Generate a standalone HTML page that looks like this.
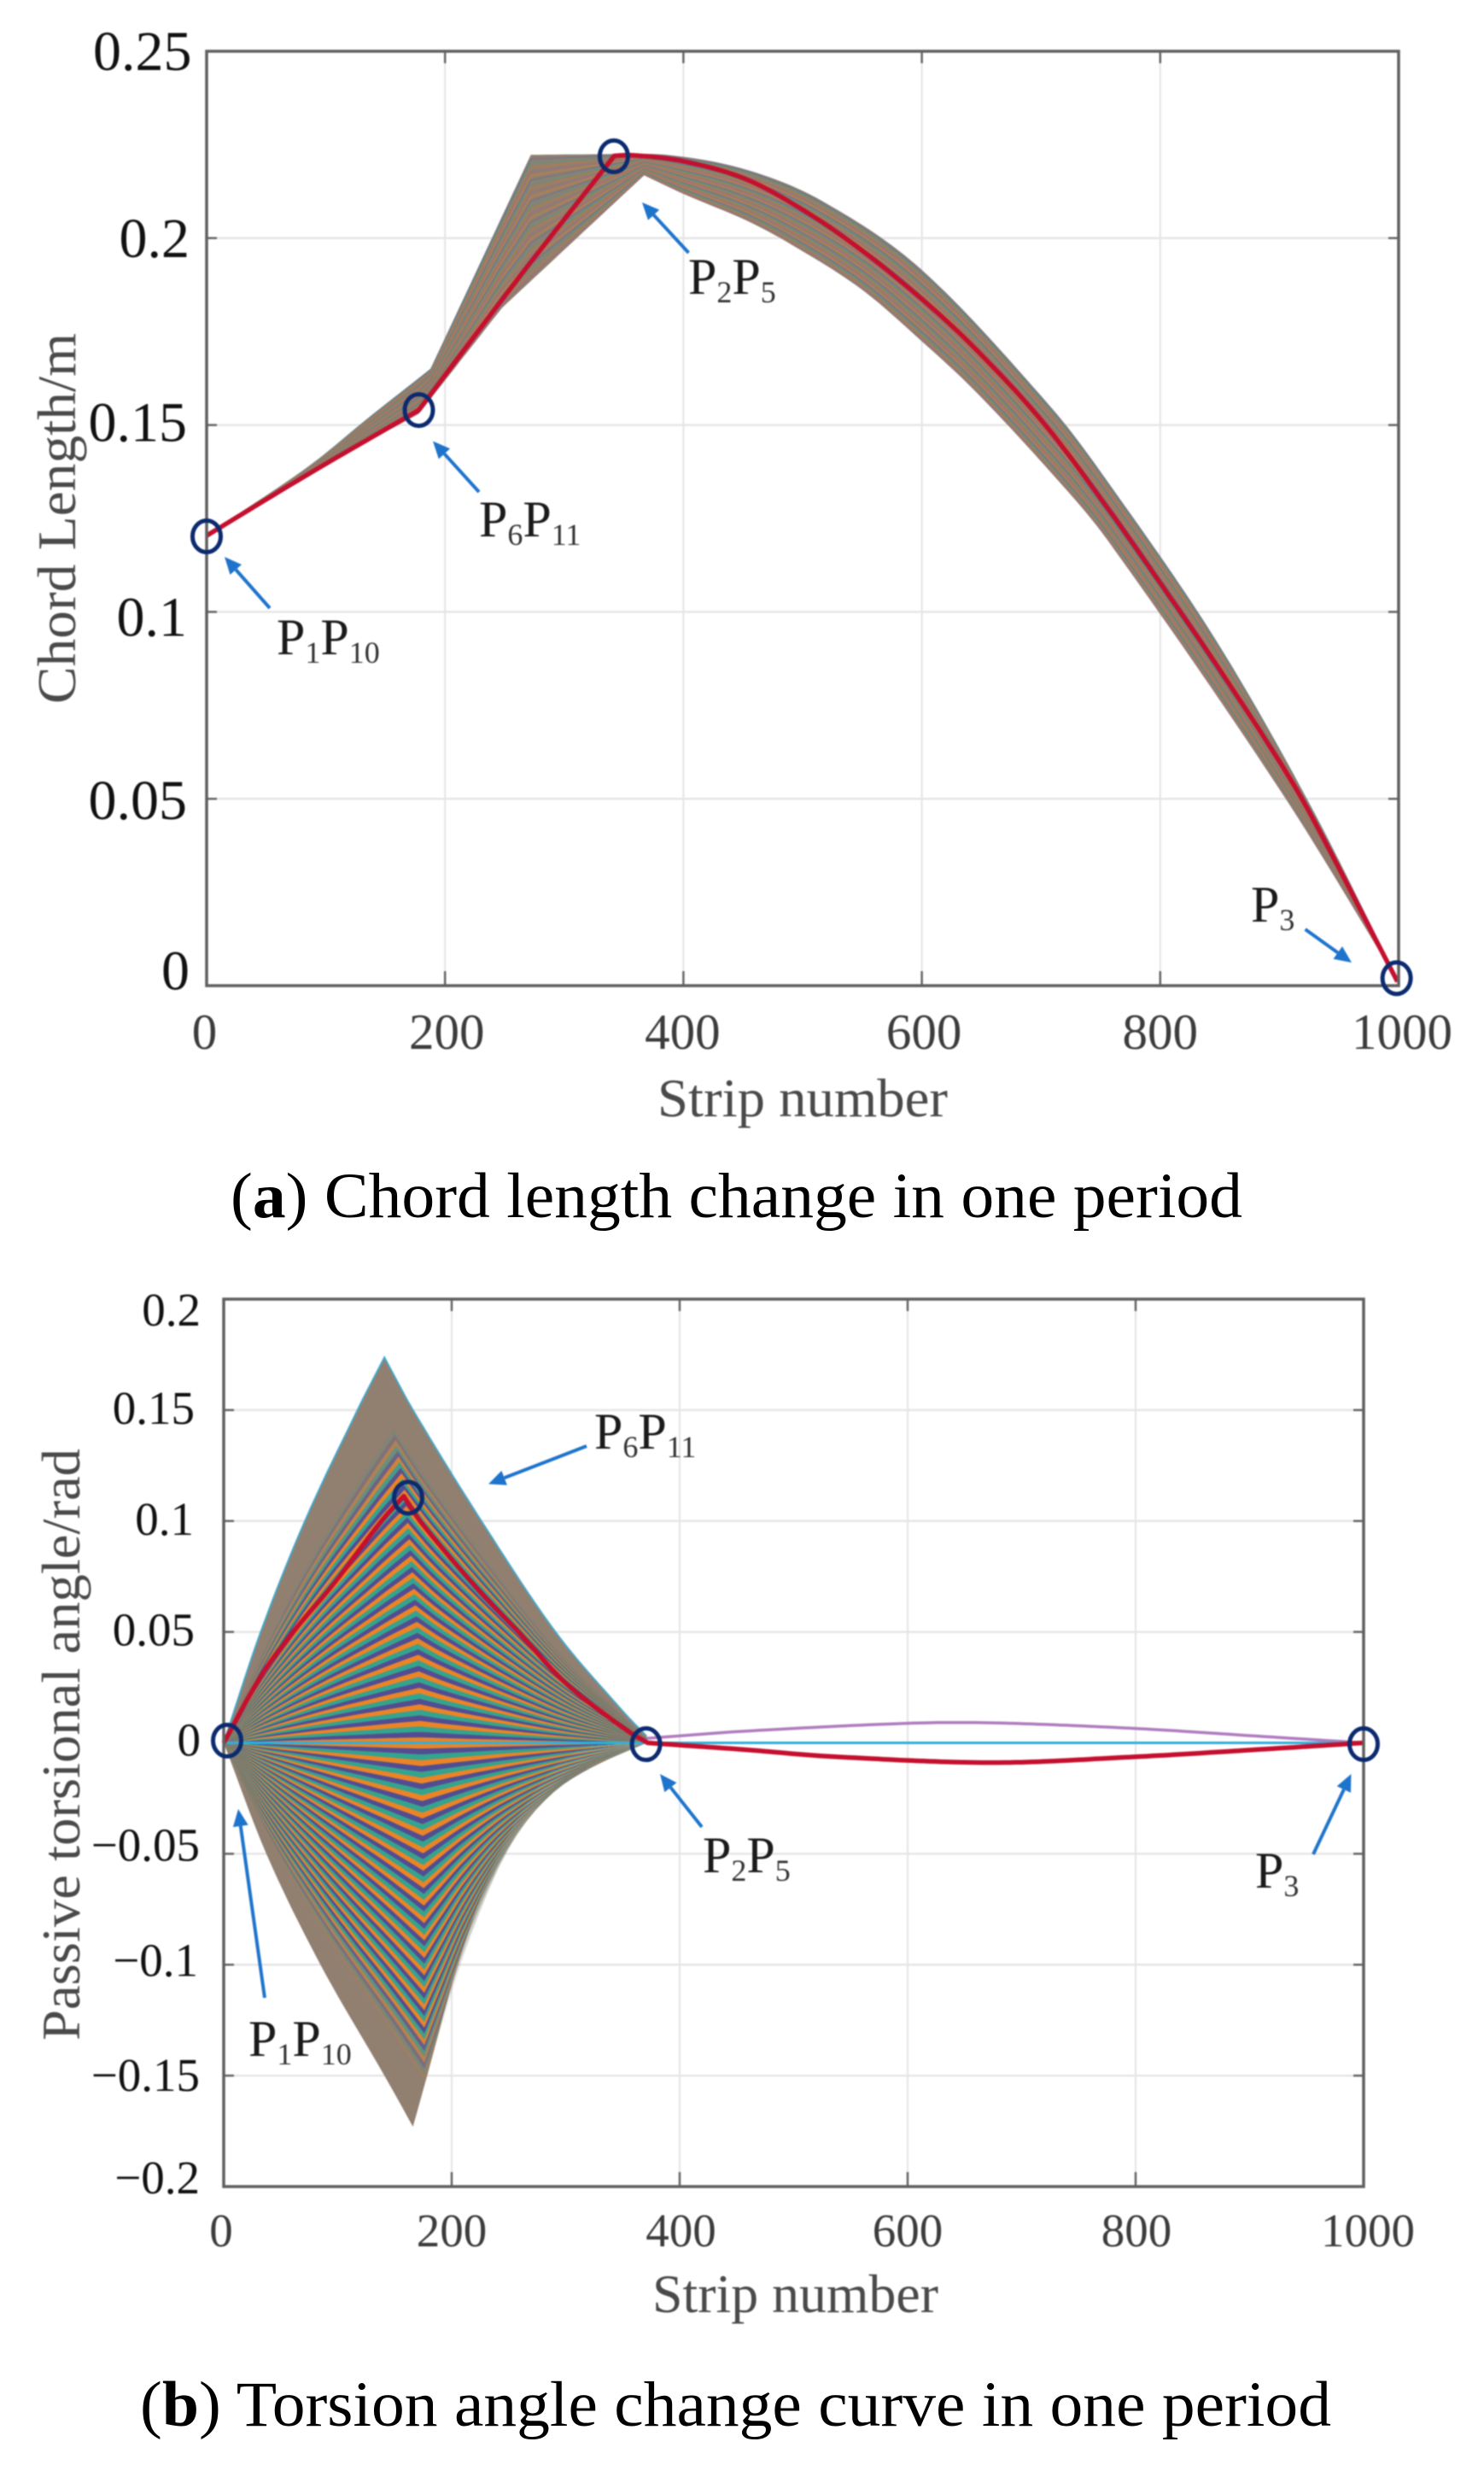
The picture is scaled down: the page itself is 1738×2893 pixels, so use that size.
<!DOCTYPE html>
<html lang="en">
<head>
<meta charset="utf-8">
<title>Chord length and torsion angle change in one period</title>
<style>
html,body{margin:0;padding:0;background:#fff;}
svg{display:block;}
text{font-family:"Liberation Serif",serif;}
.tick-a{font-size:66px;fill:#111;}
.xtick-a{font-size:59px;fill:#3c3c3c;}
.tick-b{font-size:55px;fill:#111;}
.xtick-b{font-size:55px;fill:#3c3c3c;}
.axis-title{font-size:64px;fill:#4a4a4a;}
.ann{font-size:60px;fill:#1a1a1a;}
.sub{font-size:36px;fill:#333;}
.caption{font-size:75px;fill:#000;}
.soft{filter:blur(0.8px);}
</style>
</head>
<body>
<svg id="figure" xmlns="http://www.w3.org/2000/svg" width="1738" height="2893" viewBox="0 0 1738 2893">
  <rect x="0" y="0" width="1738" height="2893" fill="#fff"/>
  <g id="chartA" class="soft"></g>
  <g id="chartB" class="soft"></g>

  <g class="soft">
    <text class="axis-title" x="770" y="1307" textLength="340" lengthAdjust="spacingAndGlyphs">Strip number</text>
    <text class="axis-title" transform="translate(88,824) rotate(-90)" textLength="434" lengthAdjust="spacingAndGlyphs">Chord Length/m</text>
    <text class="ann" x="324" y="766">P<tspan class="sub" dy="10">1</tspan><tspan dy="-10">P</tspan><tspan class="sub" dy="10">10</tspan></text>
    <text class="ann" x="561" y="628">P<tspan class="sub" dy="10">6</tspan><tspan dy="-10">P</tspan><tspan class="sub" dy="10">11</tspan></text>
    <text class="ann" x="806" y="344">P<tspan class="sub" dy="10">2</tspan><tspan dy="-10">P</tspan><tspan class="sub" dy="10">5</tspan></text>
    <text class="ann" x="1465" y="1079">P<tspan class="sub" dy="10">3</tspan></text>
  </g>
  <g class="soft">
    <text class="axis-title" x="764" y="2707" textLength="335" lengthAdjust="spacingAndGlyphs">Strip number</text>
    <text class="axis-title" transform="translate(93,2389) rotate(-90)" textLength="693" lengthAdjust="spacingAndGlyphs">Passive torsional angle/rad</text>
    <text class="ann" x="696" y="1696">P<tspan class="sub" dy="10">6</tspan><tspan dy="-10">P</tspan><tspan class="sub" dy="10">11</tspan></text>
    <text class="ann" x="291" y="2407">P<tspan class="sub" dy="10">1</tspan><tspan dy="-10">P</tspan><tspan class="sub" dy="10">10</tspan></text>
    <text class="ann" x="823" y="2192">P<tspan class="sub" dy="10">2</tspan><tspan dy="-10">P</tspan><tspan class="sub" dy="10">5</tspan></text>
    <text class="ann" x="1470" y="2210">P<tspan class="sub" dy="10">3</tspan></text>
  </g>

  <text class="caption" x="270" y="1425" textLength="1185" lengthAdjust="spacingAndGlyphs">(<tspan font-weight="bold">a</tspan>) Chord length change in one period</text>
  <text class="caption" x="164" y="2840" textLength="1395" lengthAdjust="spacingAndGlyphs">(<tspan font-weight="bold">b</tspan>) Torsion angle change curve in one period</text>
</svg>

<script>
// ---------- Chart A data ----------
const xTicks = [0, 200, 400, 600, 800, 1000];
const xTickLabels = ["0", "200", "400", "600", "800", "1000"];
const chordTicks = [0, 0.05, 0.1, 0.15, 0.2, 0.25];
const chordTickLabels = ["0", "0.05", "0.1", "0.15", "0.2", "0.25"];

const chordUpperStrip = [0, 84, 136, 188, 272, 341, 389, 453, 516, 600, 708, 756, 846, 926, 1000];
const chordUpperValue = [0.1205, 0.1385, 0.152, 0.1651, 0.2223, 0.2225, 0.2222, 0.2183, 0.21, 0.1915, 0.1549, 0.1348, 0.0928, 0.0482, 0.001];
const chordUpperCorners = [188, 272, 341];
const chordLowerStrip = [0, 84, 178, 248, 367, 401, 453, 491, 549, 600, 644, 708, 756, 902, 1000];
const chordLowerValue = [0.1205, 0.1365, 0.153, 0.1814, 0.2168, 0.2117, 0.2047, 0.1982, 0.1864, 0.1724, 0.1593, 0.1374, 0.1191, 0.0516, 0.001];
const chordLowerCorners = [178, 248, 367];
const chordRedStrip = [0, 85, 178, 264, 342, 357, 401, 453, 501, 549, 600, 644, 702, 756, 804, 843, 898, 926, 999];
const chordRedValue = [0.1204, 0.1368, 0.154, 0.1903, 0.222, 0.2222, 0.2205, 0.2157, 0.2074, 0.1969, 0.1837, 0.1707, 0.1506, 0.1277, 0.1059, 0.0878, 0.061, 0.0459, 0.0011];
const chordRedCorners = [178, 342];
const chordMarkerStrip = [0, 178, 341.6, 998.3];
const chordMarkerValue = [0.1202, 0.154, 0.2219, 0.002];

// ---------- Chart B data ----------
const torsionTicks = [-0.2, -0.15, -0.1, -0.05, 0, 0.05, 0.1, 0.15, 0.2];
const torsionTickLabels = ["\u22120.2", "\u22120.15", "\u22120.1", "\u22120.05", "0", "0.05", "0.1", "0.15", "0.2"];

const torsionUpperStrip = [0, 32.5, 71.3, 117.4, 141, 166, 226, 291, 350, 371];
const torsionUpperValue = [0, 0.05, 0.1, 0.15, 0.1737, 0.15, 0.1, 0.05, 0.0143, 0.003];
const torsionUpperCorners = [141];
const torsionLowerStrip = [0, 37.4, 84.9, 141, 166, 178.5, 205.4, 241, 287, 324.6, 371];
const torsionLowerValue = [0, -0.05, -0.1, -0.15, -0.173, -0.15, -0.1, -0.05, -0.0126, -0.001, 0];
const torsionLowerCorners = [166];
const torsionRedStrip = [0, 32.5, 61, 97, 138.5, 158, 172.3, 224.7, 258.7, 299.6, 354.6, 372, 455, 538, 675, 799, 911, 1000];
const torsionRedValue = [0, 0.03, 0.05, 0.0721, 0.1, 0.1112, 0.1, 0.0682, 0.05, 0.0271, 0.0053, 0, -0.003, -0.0063, -0.0089, -0.0063, -0.0029, 0];
const torsionRedCorners = [158, 372];
const lobeStrip = [371, 455, 600, 675, 799, 911, 1000];
const lobeValue = [0.002, 0.0052, 0.0088, 0.009, 0.0065, 0.0029, 0];
const baselineStrip = [0, 1000];
const baselineValue = [0, 0];
const torsionMarkerStrip = [3, 161.8, 370.5, 1000];
const torsionMarkerValue = [0.001, 0.1105, -0.0006, -0.0006];
// where the kink of a fan curve sits, by its share of the envelope height
const apexShare = [-1, -0.88, -0.5, -0.3, 0, 0.3, 0.65, 0.8, 1];
const apexStrip = [166, 176, 176, 175, 173, 170, 159, 150, 141];

// ---------- Layout ----------
const NS = "http://www.w3.org/2000/svg";
const STRIPE_COLORS = ["#ec8426", "#524c92", "#33a48e"];
const TEXTURE_COLORS = ["#d9802f", "#5a70a0", "#479c86", "#c07a3a", "#9a6a88"];
const boxA = {l: 242, r: 1638, t: 60, b: 1154};
const boxB = {l: 262, r: 1597, t: 1521, b: 2560};

function xA(s) { return boxA.l + (boxA.r - boxA.l) * s / 1000; }
function yA(c) { return boxA.b - (boxA.b - boxA.t) * c / 0.25; }
function xB(s) { return boxB.l + (boxB.r - boxB.l) * s / 1000; }
function yB(v) { return boxB.t + (boxB.b - boxB.t) * (0.2 - v) / 0.4; }

function linear(xs, ys, x) {
  if (x <= xs[0]) return ys[0];
  for (let i = 1; i < xs.length; i++) {
    if (x <= xs[i]) return ys[i - 1] + (ys[i] - ys[i - 1]) * (x - xs[i - 1]) / (xs[i] - xs[i - 1]);
  }
  return ys[ys.length - 1];
}
// smooth curve through read points, staying sharp at the listed corners
function makeCurve(xs, ys, corners) {
  const n = xs.length;
  function slope(a, b) { return (ys[b] - ys[a]) / (xs[b] - xs[a]); }
  function tangent(j, seg) {
    if (j === 0 || j === n - 1 || corners.indexOf(xs[j]) >= 0) return slope(seg, seg + 1);
    return slope(j - 1, j + 1);
  }
  return function (x) {
    if (x <= xs[0]) return ys[0];
    if (x >= xs[n - 1]) return ys[n - 1];
    let i = 0;
    while (x > xs[i + 1]) i++;
    const h = xs[i + 1] - xs[i], t = (x - xs[i]) / h, t2 = t * t, t3 = t2 * t;
    return (2 * t3 - 3 * t2 + 1) * ys[i] + (t3 - 2 * t2 + t) * h * tangent(i, i) +
      (-2 * t3 + 3 * t2) * ys[i + 1] + (t3 - t2) * h * tangent(i + 1, i);
  };
}
function denseStrips(xs, step) {
  const out = [];
  for (let i = 0; i < xs.length - 1; i++) {
    const pieces = Math.max(1, Math.round((xs[i + 1] - xs[i]) / step));
    for (let k = 0; k < pieces; k++) out.push(xs[i] + (xs[i + 1] - xs[i]) * k / pieces);
  }
  out.push(xs[xs.length - 1]);
  return out;
}
function make(parent, tag, attrs) {
  const n = document.createElementNS(NS, tag);
  for (const k in attrs) n.setAttribute(k, attrs[k]);
  parent.appendChild(n);
  return n;
}
function pathOf(xs, ys, fx, fy) {
  return xs.map((s, i) => fx(s).toFixed(1) + "," + fy(ys[i]).toFixed(1)).join(" ");
}
function curvePoints(xs, ys, corners, fx, fy) {
  const f = makeCurve(xs, ys, corners);
  const d = denseStrips(xs, 5);
  return pathOf(d, d.map(f), fx, fy);
}
function reversedPoints(str) { return str.split(" ").reverse().join(" "); }

function drawFrame(g, box, fx, fy, yTicks, suffix) {
  xTicks.forEach((t) => {
    const grid = make(g, "line", {x1: fx(t), x2: fx(t), y1: box.t, y2: box.b, stroke: "#e4e4e4", "stroke-width": 2});
    
    
  });
  yTicks.forEach((t) => {
    const grid = make(g, "line", {x1: box.l, x2: box.r, y1: fy(t), y2: fy(t), stroke: "#e6e6e6", "stroke-width": 2.5});
    
    
  });
  xTicks.forEach((t) => {
    if (t === 0 || t === 1000) return;
    const d = "M" + fx(t) + " " + box.b + "v-17M" + fx(t) + " " + box.t + "v14";
    const tick = make(g, "path", {d: d, stroke: "#666", "stroke-width": 2.5, fill: "none"});
    
    
  });
  yTicks.forEach((t) => {
    if (fy(t) === box.t || fy(t) === box.b) return;
    const d = "M" + box.l + " " + fy(t) + "h12M" + box.r + " " + fy(t) + "h-12";
    const tick = make(g, "path", {d: d, stroke: "#666", "stroke-width": 2.5, fill: "none"});
    
    
  });
}
function drawBox(g, box, suffix) {
  const frame = make(g, "rect", {x: box.l, y: box.t, width: box.r - box.l, height: box.b - box.t, fill: "none", stroke: "#606060", "stroke-width": 3.5});
  
  
}
function drawMarkers(g, xs, ys, fx, fy, suffix) {
  xs.forEach((s, i) => {
    const c = make(g, "ellipse", {cx: fx(s), cy: fy(ys[i]), rx: 16.5, ry: 18.5, fill: "none", stroke: "#0b2a6f", "stroke-width": 5});
    
    
  });
}
function drawArrow(g, x1, y1, x2, y2, suffix) {
  const dx = x2 - x1, dy = y2 - y1, len = Math.hypot(dx, dy), ux = dx / len, uy = dy / len;
  const bx = x2 - ux * 20, by = y2 - uy * 20;
  const shaft = make(g, "line", {x1: x1, y1: y1, x2: bx, y2: by, stroke: "#1e74cc", "stroke-width": 4});
  
  
  const pts = [x2, y2, bx - uy * 9, by + ux * 9, bx + uy * 9, by - ux * 9].map((n) => n.toFixed(1)).join(" ");
  const head = make(g, "polygon", {points: pts, fill: "#1e74cc"});
  
  
}

// ---------- Draw chart A ----------
const gA = document.getElementById("chartA");
drawFrame(gA, boxA, xA, yA, chordTicks, "a");

const chordUpperAt = makeCurve(chordUpperStrip, chordUpperValue, chordUpperCorners);
const chordLowerAt = makeCurve(chordLowerStrip, chordLowerValue, chordLowerCorners);

const chordBand = make(gA, "polygon", {
  points: curvePoints(chordUpperStrip, chordUpperValue, chordUpperCorners, xA, yA) + " " +
    reversedPoints(curvePoints(chordLowerStrip, chordLowerValue, chordLowerCorners, xA, yA)),
  fill: "#917f6f"
});



const chordGrid = denseStrips(chordUpperStrip.concat(chordLowerStrip).sort((a, b) => a - b).filter((v, i, arr) => i === 0 || v !== arr[i - 1]), 6);
for (let k = 1; k < 30; k++) {
  const share = k / 30;
  const vals = chordGrid.map((s) => chordUpperAt(s) * (1 - share) + chordLowerAt(s) * share);
  const strand = make(gA, "polyline", {
    points: pathOf(chordGrid, vals, xA, yA), fill: "none",
    stroke: TEXTURE_COLORS[k % TEXTURE_COLORS.length], "stroke-width": 1.4, "stroke-opacity": 0.6
  });
  
  
}
const chordRed = make(gA, "polyline", {points: curvePoints(chordRedStrip, chordRedValue, chordRedCorners, xA, yA), fill: "none", stroke: "#c4102e", "stroke-width": 5.5, "stroke-linejoin": "round"});


drawBox(gA, boxA, "a");
drawMarkers(gA, chordMarkerStrip, chordMarkerValue, xA, yA, "a");

[[316, 712, 263, 652], [561, 576, 507, 516.5], [806.5, 296, 752, 237], [1528.6, 1088, 1583, 1127]].forEach((a) => {
  drawArrow(gA, a[0], a[1], a[2], a[3], "a");
});

const chordLabelRight = [222, 219, 219, 219, 222, 224.5];
const chordLabelDrop = [4.7, 24, 28, 19, 22, 22];
chordTicks.forEach((t, i) => {
  const lab = make(gA, "text", {class: "tick-a", x: chordLabelRight[i], y: yA(t) + chordLabelDrop[i], "text-anchor": "end"});
  lab.textContent = chordTickLabels[i];
  
  
});
const xLabelNudgeA = [-2.5, 2, -1, 2.5, 0, 4];
xTicks.forEach((t, i) => {
  const lab = make(gA, "text", {class: "xtick-a", x: xA(t) + xLabelNudgeA[i], y: 1228, "text-anchor": "middle"});
  lab.textContent = xTickLabels[i];
  
  
});

// ---------- Draw chart B ----------
const gB = document.getElementById("chartB");
drawFrame(gB, boxB, xB, yB, torsionTicks, "b");

const torsionUpperAt = makeCurve(torsionUpperStrip, torsionUpperValue, torsionUpperCorners);
const torsionLowerAt = makeCurve(torsionLowerStrip, torsionLowerValue, torsionLowerCorners);

const upperPts = curvePoints(torsionUpperStrip, torsionUpperValue, torsionUpperCorners, xB, yB);
const lowerPts = curvePoints(torsionLowerStrip, torsionLowerValue, torsionLowerCorners, xB, yB);
const fanBand = make(gB, "polygon", {points: upperPts + " " + reversedPoints(lowerPts), fill: "#917f70"});



const END_STRIP = torsionUpperStrip[torsionUpperStrip.length - 1];
const peakUpper = Math.max.apply(null, torsionUpperValue);
const peakLower = Math.min.apply(null, torsionLowerValue);
const apexUpper = torsionUpperStrip[torsionUpperValue.indexOf(peakUpper)];
const apexLower = torsionLowerStrip[torsionLowerValue.indexOf(peakLower)];

function fanCurve(share) {
  const apex = linear(apexShare, apexStrip, share);
  const xs = [], vs = [];
  const steps = 24;
  for (let i = 0; i <= steps * 2; i++) {
    const left = i <= steps;
    const u = left ? i / steps : (i - steps) / steps;
    const s = left ? apex * u : apex + (END_STRIP - apex) * u;
    let v;
    if (share >= 0) {
      const sr = left ? apexUpper * u : apexUpper + (END_STRIP - apexUpper) * u;
      v = share * torsionUpperAt(sr);
    } else {
      const sr = left ? apexLower * u : apexLower + (END_STRIP - apexLower) * u;
      const m = -share;
      const straight = peakLower * (left ? u : (1 - u));
      v = m * (torsionLowerAt(sr) * m + straight * (1 - m));
    }
    xs.push(s);
    vs.push(v);
  }
  return {xs: xs, vs: vs};
}
function drawFanBands(count, sign, limit) {
  for (let k = 0; k < count; k++) {
    const a = sign * k / count, b = sign * (k + 1) / count;
    if (Math.abs(b) > limit) break;
    const ca = fanCurve(a), cb = fanCurve(b);
    const fade = Math.min(1, (limit - Math.abs(b)) / 0.14 + 0.12);
    const poly = make(gB, "polygon", {
      points: pathOf(ca.xs, ca.vs, xB, yB) + " " + pathOf(cb.xs.slice().reverse(), cb.vs.slice().reverse(), xB, yB),
      fill: STRIPE_COLORS[k % 3], "fill-opacity": fade.toFixed(2)
    });
    
    
  }
}
drawFanBands(70, 1, 0.82);
drawFanBands(66, -1, 0.88);

const upperEdge = make(gB, "polyline", {points: upperPts, fill: "none", stroke: "#45a6c8", "stroke-width": 2});


const lobe = make(gB, "polyline", {points: curvePoints(lobeStrip, lobeValue, [], xB, yB), fill: "none", stroke: "#b07cc0", "stroke-width": 3.5});


const baseLine = make(gB, "polyline", {points: pathOf(baselineStrip, baselineValue, xB, yB), fill: "none", stroke: "#2fb0dc", "stroke-width": 3});


const torsionRed = make(gB, "polyline", {points: curvePoints(torsionRedStrip, torsionRedValue, torsionRedCorners, xB, yB), fill: "none", stroke: "#c4102e", "stroke-width": 5.5, "stroke-linejoin": "round"});


drawBox(gB, boxB, "b");
drawMarkers(gB, torsionMarkerStrip, torsionMarkerValue, xB, yB, "b");

[[687, 1693, 572, 1737.5], [310, 2339, 279, 2118], [822, 2139, 773, 2077], [1538, 2171, 1582.4, 2077]].forEach((a) => {
  drawArrow(gB, a[0], a[1], a[2], a[3], "b");
});

const torsionLabelRight = [234, 234, 232, 234, 235, 228, 227, 228, 235];
const torsionLabelDrop = [8, 18, 13, 8, 15, 16, 16, 16, 31];
torsionTicks.forEach((t, i) => {
  const lab = make(gB, "text", {class: "tick-b", x: torsionLabelRight[i], y: yB(t) + torsionLabelDrop[i], "text-anchor": "end"});
  lab.textContent = torsionTickLabels[i];
  
  
});
const xLabelNudgeB = [-3, 0, 1.5, 0, 1, 5];
xTicks.forEach((t, i) => {
  const lab = make(gB, "text", {class: "xtick-b", x: xB(t) + xLabelNudgeB[i], y: 2630, "text-anchor": "middle"});
  lab.textContent = xTickLabels[i];
  
  
});
</script>
</body>
</html>
